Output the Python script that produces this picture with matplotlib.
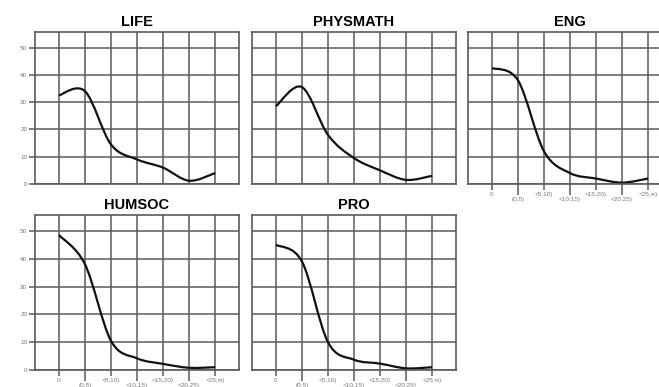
import matplotlib.pyplot as plt
import numpy as np
from matplotlib.path import Path
from matplotlib.patches import PathPatch

plt.rcParams['font.family'] = ['Liberation Sans', 'DejaVu Sans']

categories = ["0", "(0,5)", "<5,10)", "<10,15)", "<15,20)", "<20,25)", "<25,\u221e)"]
yticks = [0, 10, 20, 30, 40, 50]

life = [32.5, 34.0, 14.5, 9.0, 6.0, 1.2, 4.0]
physmath = [28.5, 35.5, 18.0, 9.5, 5.0, 1.5, 3.0]
eng = [42.5, 38.0, 12.0, 4.0, 2.0, 0.5, 2.0]
humsoc = [48.5, 38.0, 10.5, 4.2, 2.2, 0.8, 1.0]
pro = [45.0, 39.0, 10.0, 3.7, 2.3, 0.6, 1.0]

gridc = "#5a5a5a"
labc = "#7a7a7a"


def smooth_path(xv, yv):
    # catmull-rom style bezier through the data points
    x = np.asarray(xv, float)
    y = np.asarray(yv, float)
    px = np.concatenate([[x[0]], x, [x[-1]]])
    py = np.concatenate([[y[0]], y, [y[-1]]])
    verts = [(x[0], y[0])]
    codes = [Path.MOVETO]
    for i in range(len(x) - 1):
        c1 = (x[i] + (px[i + 2] - px[i]) / 6, y[i] + (py[i + 2] - py[i]) / 6)
        c2 = (x[i + 1] - (px[i + 3] - px[i + 1]) / 6, y[i + 1] - (py[i + 3] - py[i + 1]) / 6)
        verts += [c1, c2, (x[i + 1], y[i + 1])]
        codes += [Path.CURVE4] * 3
    return Path(verts, codes)


def panel(rect, title, values, show_x, show_y):
    ax = fig.add_axes(rect)
    pos = np.arange(len(values))
    ax.set_xlim(-0.92, 6.92)
    ax.set_ylim(0, 55.7)
    ax.set_xticks(pos[::2])
    ax.set_xticks(pos[1::2], minor=True)
    ax.set_yticks(yticks)
    ax.grid(True, which='both', color=gridc, lw=1.1)
    ax.set_axisbelow(True)
    for s in ax.spines.values():
        s.set_color(gridc)
        s.set_linewidth(1.2)
    if show_x:
        ax.set_xticklabels(categories[::2])
        ax.set_xticklabels(categories[1::2], minor=True)
        ax.tick_params(axis='x', which='major', length=4, width=1.1, color=gridc,
                       labelsize=4.6, labelcolor=labc, pad=1.5)
        ax.tick_params(axis='x', which='minor', length=8, width=1.1, color=gridc,
                       labelsize=4.6, labelcolor=labc, pad=1.0)
    else:
        ax.set_xticklabels([])
        ax.set_xticklabels([], minor=True)
        ax.tick_params(axis='x', which='both', length=0)
    if show_y:
        ax.tick_params(axis='y', length=4, width=1.1, color=gridc,
                       labelsize=4.6, labelcolor=labc, pad=1.5)
    else:
        ax.set_yticklabels([])
        ax.tick_params(axis='y', length=0)
    ax.add_patch(PathPatch(smooth_path(pos, values), facecolor='none',
                           edgecolor='#111111', lw=1.6, transform=ax.transData))
    ax.set_title(title, fontsize=10.5, fontweight='bold', pad=4.5)
    return ax


fig = plt.figure(figsize=(6.59, 3.87), dpi=100)
w = 204 / 659
h1 = 152 / 387
h2 = 155 / 387
panel([35 / 659, 1 - 184 / 387, w, h1], "LIFE", life, False, True)
panel([252 / 659, 1 - 184 / 387, w, h1], "PHYSMATH", physmath, False, False)
panel([468 / 659, 1 - 184 / 387, w, h1], "ENG", eng, True, False)
panel([35 / 659, 1 - 370 / 387, w, h2], "HUMSOC", humsoc, True, True)
panel([252 / 659, 1 - 370 / 387, w, h2], "PRO", pro, True, False)

fig.savefig("out.png", dpi=100)
